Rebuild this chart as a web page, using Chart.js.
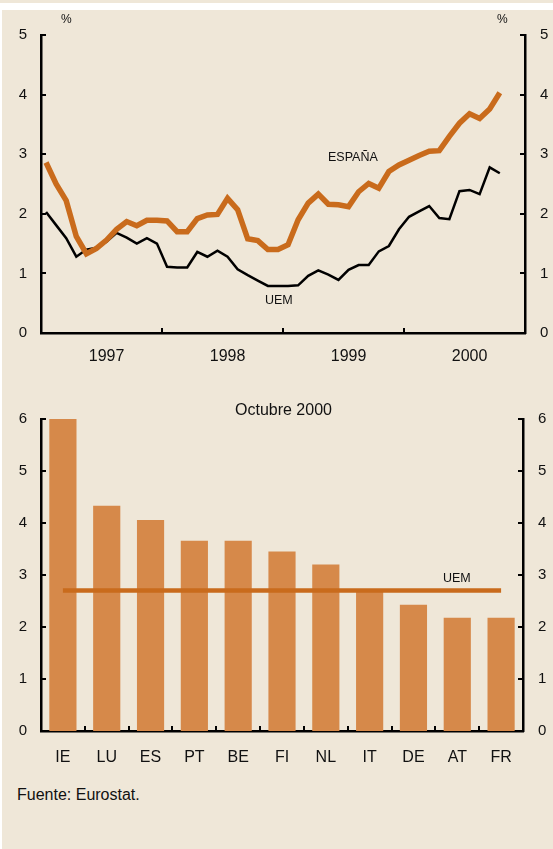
<!DOCTYPE html>
<html><head><meta charset="utf-8">
<script src="https://cdn.jsdelivr.net/npm/chart.js@4.4.1/dist/chart.umd.min.js"></script>
<style>
html,body{margin:0;padding:0;background:#fff;width:553px;height:849px;overflow:hidden;font-family:"Liberation Sans",Arial,sans-serif;}
.bg{position:absolute;background:#efe7d8;}
canvas{position:absolute;left:0;}
.t{position:absolute;color:#111;white-space:nowrap;line-height:1;}
</style></head><body>
<div class="bg" style="left:0;top:0;width:553px;height:3px"></div>
<div class="bg" style="left:2px;top:10px;width:551px;height:839px"></div>
<canvas id="c1" width="553" height="380" style="top:0"></canvas>
<canvas id="c2" width="553" height="400" style="top:380px"></canvas>
<div class="t" style="left:61px;top:13px;font-size:12px">%</div>
<div class="t" style="left:497px;top:13px;font-size:12px">%</div>
<div class="t" style="left:328px;top:151px;font-size:12.5px">ESPAÑA</div>
<div class="t" style="left:265px;top:294px;font-size:12.5px">UEM</div>
<div class="t" style="left:235px;top:402px;font-size:16px">Octubre 2000</div>
<div class="t" style="left:443px;top:572px;font-size:12.5px">UEM</div>
<div class="t" style="left:17px;top:787px;font-size:16px">Fuente: Eurostat.</div>
<script>
// ---- Data: top chart (monthly, Jan 1997 - Oct 2000) ----
const months = [
 '1997-01','1997-02','1997-03','1997-04','1997-05','1997-06','1997-07','1997-08','1997-09','1997-10','1997-11','1997-12',
 '1998-01','1998-02','1998-03','1998-04','1998-05','1998-06','1998-07','1998-08','1998-09','1998-10','1998-11','1998-12',
 '1999-01','1999-02','1999-03','1999-04','1999-05','1999-06','1999-07','1999-08','1999-09','1999-10','1999-11','1999-12',
 '2000-01','2000-02','2000-03','2000-04','2000-05','2000-06','2000-07','2000-08','2000-09','2000-10'];
const espana = [2.86,2.50,2.22,1.62,1.33,1.42,1.56,1.74,1.87,1.80,1.89,1.89,
 1.88,1.70,1.70,1.92,1.98,1.99,2.26,2.07,1.58,1.55,1.40,1.40,
 1.48,1.90,2.18,2.33,2.16,2.15,2.12,2.37,2.51,2.43,2.71,2.82,
 2.90,2.98,3.05,3.06,3.30,3.52,3.68,3.60,3.76,4.03];
const uemMonthly = [2.03,1.81,1.59,1.28,1.40,1.43,1.53,1.68,1.60,1.50,1.59,1.50,
 1.11,1.10,1.10,1.36,1.28,1.38,1.28,1.07,0.97,0.88,0.79,0.79,
 0.79,0.80,0.96,1.05,0.98,0.89,1.06,1.14,1.14,1.37,1.46,1.74,
 1.95,2.04,2.13,1.93,1.91,2.38,2.40,2.33,2.78,2.68];
const years = ['1997','1998','1999','2000'];
const topTicks = [0,1,2,3,4,5];

// ---- Data: bottom chart (October 2000) ----
const countries = ['IE','LU','ES','PT','BE','FI','NL','IT','DE','AT','FR'];
const octValues = [6.0,4.33,4.06,3.66,3.66,3.45,3.20,2.73,2.43,2.18,2.18];
const uemOct = [2.7,2.7,2.7,2.7,2.7,2.7,2.7,2.7,2.7,2.7,2.7];
const bottomTicks = [0,1,2,3,4,5,6];

Chart.defaults.font.family = '"Liberation Sans", Arial, sans-serif';
Chart.defaults.color = '#111';
Chart.defaults.animation = false;

const ORANGE = '#c96b1c';
const BAR = '#d6894a';

function inwardTicks(xMarks){
  return {
    id:'inwardTicks',
    afterDraw(chart){
      const ctx = chart.ctx;
      ctx.save();
      ctx.strokeStyle = '#000';
      ctx.lineWidth = 2;
      const len = 5;
      ['y','y2'].forEach(id=>{
        const s = chart.scales[id];
        s.ticks.forEach((t,i)=>{
          const py = Math.round(s.getPixelForTick(i));
          ctx.beginPath();
          if (s.position==='left'){ctx.moveTo(s.right,py);ctx.lineTo(s.right+len,py);}
          else {ctx.moveTo(s.left,py);ctx.lineTo(s.left-len,py);}
          ctx.stroke();
        });
      });
      const xs = chart.scales.x;
      xMarks(xs).forEach(px=>{
        px = Math.round(px);
        ctx.beginPath();
        ctx.moveTo(px, xs.top); ctx.lineTo(px, xs.top-len);
        ctx.stroke();
      });
      ctx.restore();
    }
  };
}

function yAxis(pos, width, max, ticks, pad){
  return {
    position: pos, min: 0, max: max,
    grid: {display:false, tickLength: 0},
    border: {display:true, color:'#000', width:2.5},
    afterBuildTicks: s => { s.ticks = ticks.map(v=>({value:v})); },
    ticks: {font:{size:15}, color:'#111', padding: pad},
    afterFit: s => { s.width = width; }
  };
}

// ---- Top chart ----
new Chart(document.getElementById('c1'), {
  type: 'line',
  data: {
    datasets: [
      {label:'ESPAÑA', data: espana.map((v,i)=>({x:i+0.5, y:v})), borderColor: ORANGE, borderWidth: 5.5,
       pointRadius: 0, tension: 0, order: 1, borderJoinStyle:'miter'},
      {label:'UEM', data: uemMonthly.map((v,i)=>({x:i+0.5, y:v})), borderColor: '#000', borderWidth: 2.5,
       pointRadius: 0, tension: 0, order: 2, borderJoinStyle:'miter'}
    ]
  },
  options: {
    responsive: false,
    layout: {padding: {top: 35, left: 0, right: 0, bottom: 0}},
    plugins: {legend:{display:false}, tooltip:{enabled:false}},
    scales: {
      x: {
        type: 'linear', min: 0, max: months.length + 2,
        grid: {display:false, tickLength: 0},
        border: {display:true, color:'#000', width:2.5},
        afterBuildTicks: s => { s.ticks = years.map((y,k)=>({value: k*12 + 6.5})); },
        ticks: {font:{size:16}, color:'#111', padding: 14, maxRotation:0, autoSkip:false,
                callback: (v, i) => years[i]},
        afterFit: s => { s.height = 47; }
      },
      y: yAxis('left', 41, 5, topTicks, 14),
      y2: yAxis('right', 28, 5, topTicks, 15)
    }
  },
  plugins: [inwardTicks(xs => years.slice(1).map((y,k)=>xs.getPixelForValue((k+1)*12)))]
});

// ---- Bottom chart ----
new Chart(document.getElementById('c2'), {
  type: 'bar',
  data: {
    labels: countries,
    datasets: [
      {type:'line', label:'UEM', data: uemOct, borderColor: ORANGE, borderWidth: 4.5, pointRadius: 0, order: 1},
      {type:'bar', label:'Octubre 2000', data: octValues, backgroundColor: BAR, barPercentage: 0.62, categoryPercentage: 1, order: 2}
    ]
  },
  options: {
    responsive: false,
    layout: {padding: {top: 39, left: 0, right: 0, bottom: 0}},
    plugins: {legend:{display:false}, tooltip:{enabled:false}},
    scales: {
      x: {
        type: 'category', offset: true,
        grid: {display:false, tickLength: 0},
        border: {display:true, color:'#000', width:2.5},
        ticks: {font:{size:16}, color:'#111', padding: 17, maxRotation:0, autoSkip:false},
        afterFit: s => { s.height = 49; }
      },
      y: yAxis('left', 41, 6, bottomTicks, 14),
      y2: yAxis('right', 30, 6, bottomTicks, 15)
    }
  },
  plugins: [inwardTicks(xs => countries.slice(1).map((c,i)=>(xs.getPixelForValue(i)+xs.getPixelForValue(i+1))/2))]
});
</script>
</body></html>
